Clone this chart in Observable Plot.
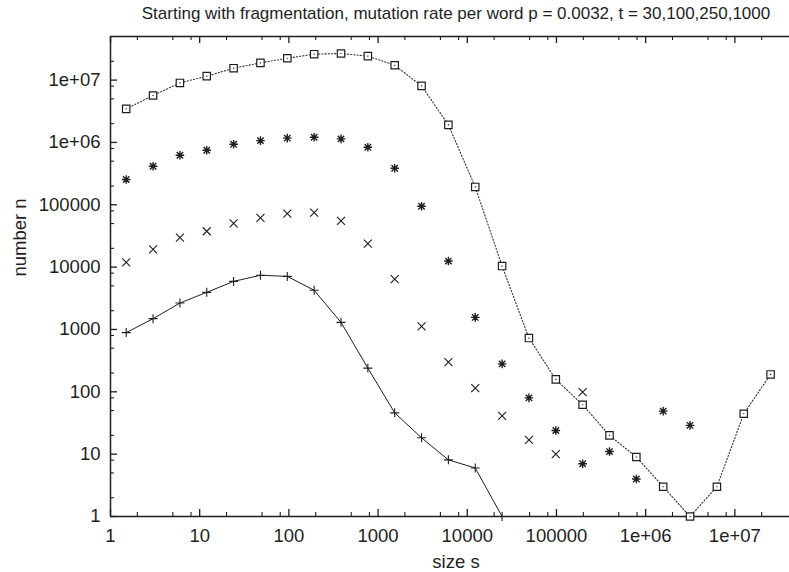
<!DOCTYPE html>
<html>
<head>
<meta charset="utf-8">
<script src="https://cdn.jsdelivr.net/npm/d3@7"></script>
<script src="https://cdn.jsdelivr.net/npm/@observablehq/plot@0.6"></script>
<style>
  body { margin: 0; background: #fff; overflow: hidden; }
  #chart svg { display: block; }
</style>
</head>
<body>
<div id="chart"></div>
<script>
// ---- data ----
const sizes = [1.5, 3, 6, 12, 24, 48, 96, 192, 384, 768, 1536, 3072, 6144, 12288, 24576,
  49152, 98304, 196608, 393216, 786432, 1572864, 3145728, 6291456, 12582912, 25165824];

const t30 = [890, 1490, 2650, 3940, 5900, 7400, 7100, 4250, 1300, 240, 46, 18.3, 8.1, 6.0, 1];
const t100 = [11900, 19300, 29700, 37600, 50500, 61400, 72300, 75000, 55000, 23800, 6440,
  1120, 300, 115, 41, 17, 10, 99];
const t250 = [254000, 415000, 623000, 750000, 935000, 1070000, 1170000, 1210000, 1140000,
  837000, 385000, 94600, 12500, 1560, 281, 80, 24, 7, 11, 4, 49, 29];
const t1000 = [3450000, 5660000, 9000000, 11560000, 15500000, 18900000, 22400000, 26000000,
  26700000, 24200000, 17300000, 8070000, 1910000, 193000, 10400, 728, 158, 62, 20, 9, 3, 1, 3,
  44.5, 190];

const xMajor = [1, 10, 100, 1000, 10000, 100000, 1000000, 10000000];
const xMajorLabels = ["1", "10", "100", "1000", "10000", "100000", "1e+06", "1e+07"];
const yMajor = [1, 10, 100, 1000, 10000, 100000, 1000000, 10000000];
const yMajorLabels = ["1", "10", "100", "1000", "10000", "100000", "1e+06", "1e+07"];
const minorMultipliers = [2, 5, 8];

const titleText = "Starting with fragmentation, mutation rate per word p = 0.0032, t = 30,100,250,1000";
const xLabel = "size s";
const yLabel = "number n";

// ---- helpers ----
const xMax = 4.1e7, yMax = 5e7;
const toRows = vals => vals.map((n, i) => ({s: sizes[i], n}));
const d30 = toRows(t30), d100 = toRows(t100), d250 = toRows(t250), d1000 = toRows(t1000);

const minorOf = (majors, max) => majors.flatMap(m => minorMultipliers.map(k => m * k)).filter(v => v < max);
const xMinor = minorOf(xMajor, xMax);
const yMinor = minorOf(yMajor, yMax);

const W = 789, H = 572, ML = 110, MR = 0, MT = 36, MB = 56;
const PW = W - ML - MR, PH = H - MT - MB;
const ink = "#1e1e1e";
const font = "'Liberation Sans', Arial, Helvetica, sans-serif";

// custom marker shapes (gnuplot-like)
const plusSym = {draw(c) { const r = 4.5; c.moveTo(-r, 0); c.lineTo(r, 0); c.moveTo(0, -r); c.lineTo(0, r); }};
const timesSym = {draw(c) { const r = 4.0; c.moveTo(-r, -r); c.lineTo(r, r); c.moveTo(-r, r); c.lineTo(r, -r); }};
const starSym = {draw(c) {
  const r = 4.3, q = 3.2;
  c.moveTo(-r, 0); c.lineTo(r, 0); c.moveTo(0, -r); c.lineTo(0, r);
  c.moveTo(-q, -q); c.lineTo(q, q); c.moveTo(-q, q); c.lineTo(q, -q);
}};
const squareSym = {draw(c) {
  const r = 3.7; c.moveTo(-r, -r); c.lineTo(r, -r); c.lineTo(r, r); c.lineTo(-r, r); c.closePath();
  c.moveTo(-0.6, 0); c.lineTo(0.6, 0);
}};

const chart = Plot.plot({
  width: W, height: H,
  marginLeft: ML, marginRight: MR, marginTop: MT, marginBottom: MB,
  style: {fontFamily: font, background: "#fff"},
  x: {type: "log", domain: [1, xMax], axis: null},
  y: {type: "log", domain: [1, yMax], axis: null},
  marks: [
    // frame (left, bottom, top)
    Plot.ruleX([1], {stroke: ink, strokeWidth: 1.5}),
    Plot.ruleY([1], {stroke: ink, strokeWidth: 1.5}),
    Plot.ruleY([yMax], {stroke: ink, strokeWidth: 1.5}),
    // inward ticks: bottom, top, left
    Plot.ruleX(xMajor, {stroke: ink, strokeWidth: 1.3, insetTop: PH - 7}),
    Plot.ruleX(xMinor, {stroke: ink, strokeWidth: 1.1, insetTop: PH - 4}),
    Plot.ruleX(xMajor, {stroke: ink, strokeWidth: 1.3, insetBottom: PH - 7}),
    Plot.ruleX(xMinor, {stroke: ink, strokeWidth: 1.1, insetBottom: PH - 4}),
    Plot.ruleY(yMajor, {stroke: ink, strokeWidth: 1.3, insetRight: PW - 7}),
    Plot.ruleY(yMinor, {stroke: ink, strokeWidth: 1.1, insetRight: PW - 4}),
    // tick labels
    Plot.text(xMajor, {x: d => d, text: (d, i) => xMajorLabels[i], frameAnchor: "bottom",
      lineAnchor: "top", dy: 12, fontSize: 18.5, fill: ink, fontFamily: font}),
    Plot.text(yMajor, {y: d => d, text: (d, i) => yMajorLabels[i], frameAnchor: "left",
      textAnchor: "end", dx: -10, fontSize: 18.5, fill: ink, fontFamily: font}),
    // axis titles and title
    Plot.text([xLabel], {frameAnchor: "bottom", dy: 46, dx: 6, lineAnchor: "middle", fontSize: 18.5, fill: ink, fontFamily: font}),
    Plot.text([yLabel], {frameAnchor: "left", dx: -90, rotate: -90, fontSize: 18.5, fill: ink, fontFamily: font}),
    Plot.text([titleText], {frameAnchor: "top", dy: -23, dx: 6, lineAnchor: "middle", fontSize: 17, fill: ink, fontFamily: font}),
    // series
    Plot.line(d1000, {x: "s", y: "n", stroke: "#333", strokeWidth: 1.1, strokeDasharray: "1.2,2"}),
    Plot.line(d30, {x: "s", y: "n", stroke: ink, strokeWidth: 1}),
    Plot.dot(d30, {x: "s", y: "n", symbol: plusSym, fill: "none", stroke: ink, strokeWidth: 1.1}),
    Plot.dot(d100, {x: "s", y: "n", symbol: timesSym, fill: "none", stroke: ink, strokeWidth: 1.1}),
    Plot.dot(d250, {x: "s", y: "n", symbol: starSym, fill: "none", stroke: ink, strokeWidth: 1.4}),
    Plot.dot(d1000, {x: "s", y: "n", symbol: squareSym, fill: "#fff", stroke: ink, strokeWidth: 1.2})
  ]
});
document.getElementById("chart").appendChild(chart);
</script>
</body>
</html>
